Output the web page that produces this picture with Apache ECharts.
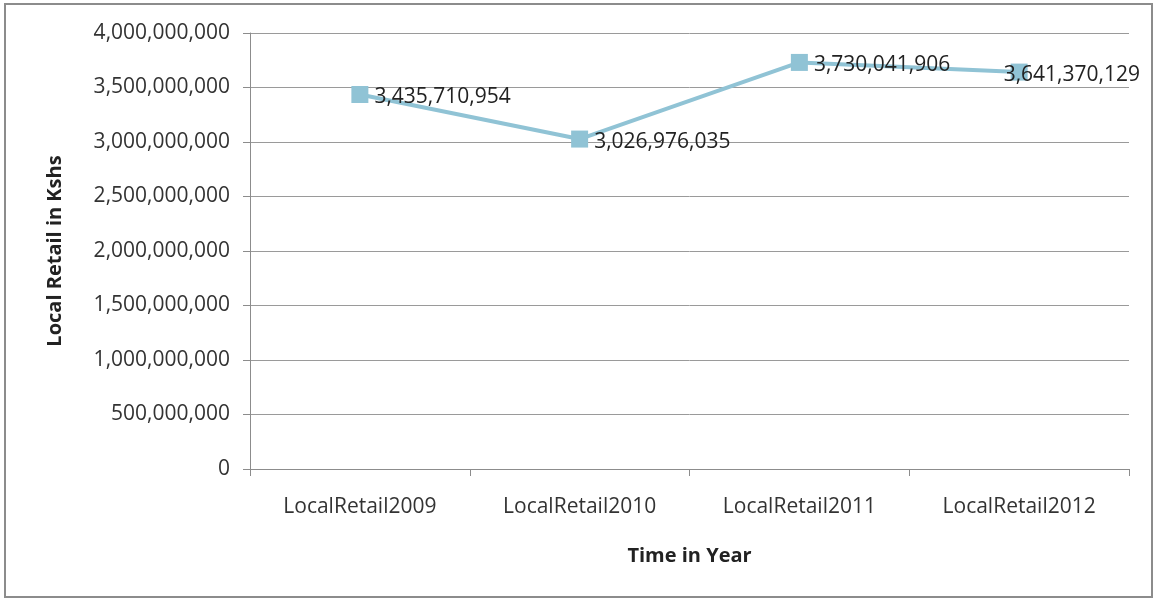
<!DOCTYPE html>
<html><head><meta charset="utf-8">
<script src="https://cdn.jsdelivr.net/npm/echarts@6/dist/echarts.min.js"></script>
<style>html,body{margin:0;padding:0;background:#fff}#c{width:1156px;height:599px}</style>
</head><body><div id="c"></div>
<script>
const categories = ["LocalRetail2009", "LocalRetail2010", "LocalRetail2011", "LocalRetail2012"];
const localRetail = [3435710954, 3026976035, 3730041906, 3641370129];
const yTitle = "Local Retail in Kshs";
const xTitle = "Time in Year";

const fmt = v => String(Math.round(v)).replace(/\B(?=(\d{3})+(?!\d))/g, ",");
const FONT = "Open Sans";
const seriesData = localRetail.map((v, i) =>
  i === localRetail.length - 1 ? { value: v, label: { offset: [-30, 3] } } : v);
const chart = echarts.init(document.getElementById('c'));
chart.setOption({
  animation: false,
  backgroundColor: '#fff',
  textStyle: { fontFamily: FONT },
  graphic: [{
    type: 'rect', shape: { x: 5, y: 4, width: 1147, height: 593 },
    style: { fill: 'none', stroke: '#8c8c8c', lineWidth: 2 }, silent: true
  }],
  grid: { left: 250, right: 27, top: 33, bottom: 130 },
  xAxis: {
    type: 'category', data: categories, boundaryGap: true,
    name: xTitle, nameLocation: 'middle', nameGap: 77,
    nameTextStyle: { fontSize: 20, fontWeight: 'bold', color: '#222', fontFamily: FONT },
    axisLine: { lineStyle: { color: '#8c8c8c', width: 1 } },
    axisTick: { show: true, length: 7, lineStyle: { color: '#8c8c8c' } },
    axisLabel: { fontSize: 21, color: '#333', margin: 28, fontFamily: FONT }
  },
  yAxis: {
    type: 'value', min: 0, max: 4000000000, interval: 500000000,
    name: yTitle, nameLocation: 'middle', nameGap: 185, nameRotate: 90,
    nameTextStyle: { fontSize: 20, fontWeight: 'bold', color: '#222', fontFamily: FONT },
    axisLine: { show: true, lineStyle: { color: '#8c8c8c', width: 1 } },
    axisTick: { show: true, length: 7, lineStyle: { color: '#8c8c8c' } },
    splitLine: { lineStyle: { color: '#9a9a9a', width: 1 } },
    axisLabel: { fontSize: 21, color: '#333', margin: 20, formatter: fmt, fontFamily: FONT }
  },
  series: [{
    type: 'line', data: seriesData,
    symbol: 'rect', symbolSize: 17,
    lineStyle: { color: '#90c3d5', width: 4 },
    itemStyle: { color: '#90c3d5' },
    label: {
      show: true, position: 'right', distance: 6, offset: [0, 3],
      fontSize: 21, color: '#222', fontFamily: FONT,
      formatter: p => fmt(p.value)
    }
  }]
});
</script></body></html>
